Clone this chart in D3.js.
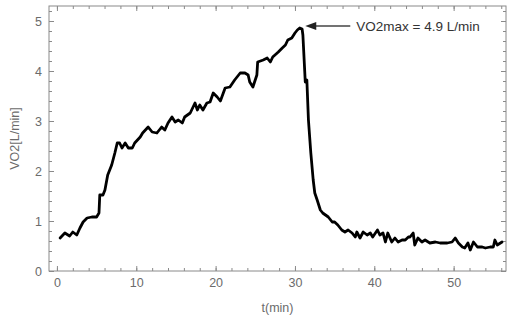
<!DOCTYPE html>
<html>
<head>
<meta charset="utf-8">
<script src="https://cdn.jsdelivr.net/npm/d3@7"></script>
<style>
  body { margin: 0; background: #fff; }
  text { font-family: "Liberation Sans", Arial, sans-serif; }
</style>
</head>
<body>
<div id="chart"></div>
<script>
// time (min) and VO2 (L/min)
let times = [
  0.4, 1.0, 1.6, 2.0, 2.5, 2.9, 3.3, 3.8, 4.4, 5.0, 5.3, 5.4, 5.8, 6.05, 6.4,
  6.9, 7.3, 7.6, 7.9, 8.2, 8.6, 9.0, 9.5, 9.8, 10.5, 10.8, 11.5, 12.0, 12.6,
  13.2, 13.6, 14.0, 14.5, 14.9, 15.3, 15.8, 16.1, 16.8, 17.4, 17.7, 18.0, 18.4,
  18.9, 19.3, 19.7, 20.2, 20.6, 21.2, 21.8, 22.4, 23.1, 23.7, 24.1, 24.3, 24.7,
  25.2, 25.3, 26.0, 26.5, 26.9, 27.2, 27.9, 28.4, 28.8, 29.1, 29.6, 30.0, 30.3,
  30.6, 30.9, 31.0, 31.3, 31.5, 31.7, 32.0, 32.3, 32.5, 32.8, 33.2, 33.5, 34.2,
  34.7, 35.0, 35.4, 35.9, 36.3, 36.7, 37.2, 37.6, 37.8, 38.2, 38.6, 39.1, 39.5,
  39.8, 40.4, 40.7, 41.1, 41.4, 41.7, 42.2, 42.6, 43.0, 43.5, 43.9, 44.3, 44.5,
  44.9, 45.1, 45.5, 46.0, 46.4, 47.0, 47.7, 48.3, 49.2, 49.8, 50.2, 50.6, 51.1,
  51.4, 51.8, 52.1, 52.5, 53.0, 53.6, 54.0, 54.6, 55.0, 55.2, 55.5, 55.9, 56.1
];
let vo2 = [
  0.66, 0.76, 0.70, 0.78, 0.72, 0.86, 0.98, 1.06, 1.08, 1.08, 1.16, 1.52, 1.52, 1.62, 1.92,
  2.12, 2.36, 2.56, 2.56, 2.46, 2.56, 2.46, 2.46, 2.56, 2.68, 2.76, 2.88, 2.78, 2.76,
  2.88, 2.82, 2.96, 3.08, 2.98, 3.02, 2.96, 3.08, 3.16, 3.36, 3.22, 3.32, 3.22,
  3.36, 3.38, 3.56, 3.48, 3.40, 3.66, 3.68, 3.82, 3.96, 3.96, 3.92, 3.78, 3.68,
  3.92, 4.18, 4.22, 4.26, 4.18, 4.28, 4.38, 4.46, 4.52, 4.62, 4.66, 4.76, 4.82,
  4.86, 4.84, 4.72, 3.78, 3.82, 3.02, 2.36, 1.82, 1.56, 1.42, 1.22, 1.16, 1.08,
  0.98, 0.98, 0.92, 0.82, 0.78, 0.82, 0.76, 0.68, 0.78, 0.66, 0.78, 0.72, 0.76,
  0.68, 0.82, 0.72, 0.76, 0.58, 0.76, 0.58, 0.66, 0.58, 0.62, 0.62, 0.68, 0.68,
  0.76, 0.52, 0.66, 0.58, 0.62, 0.56, 0.58, 0.56, 0.56, 0.58, 0.66, 0.56, 0.48,
  0.46, 0.56, 0.42, 0.58, 0.48, 0.48, 0.46, 0.48, 0.48, 0.62, 0.52, 0.56, 0.58
];

let xTicks = [0, 10, 20, 30, 40, 50];
let yTicks = [0, 1, 2, 3, 4, 5];
let xMinor = d3.range(0, 57, 2);
let yMinor = d3.range(0, 5.3, 0.2);

let peakTime = 31.3, peakValue = 4.9;
let peakLabel = "VO2max = 4.9 L/min";

let margin = { top: 6, right: 4, bottom: 49, left: 49 };
let exteriorWidth = 510, exteriorHeight = 320;
let interiorWidth = exteriorWidth - margin.left - margin.right,
    interiorHeight = exteriorHeight - margin.top - margin.bottom;

let data = times.map(function(t, i) { return { t: t, v: vo2[i] }; });

let svg = d3.select("#chart")
  .append("svg")
    .attr("width", exteriorWidth)
    .attr("height", exteriorHeight)
  .append("g")
    .attr("transform", translate(margin.left, margin.top));

let x = d3.scaleLinear().domain([-1.0, 56.6]).range([0, interiorWidth]);
let y = d3.scaleLinear().domain([0, 5.3]).range([interiorHeight, 0]);

let frameColor = "#8a8a8a", labelColor = "#6b6b6b";
let fmt = d3.format("d");

function styleAxis(g) {
  g.select(".domain").remove();
  g.selectAll(".tick line").attr("stroke", frameColor);
  g.selectAll(".tick text").attr("fill", labelColor).style("font-size", "12.5px");
}

// minor ticks on all four sides
svg.append("g").attr("transform", translate(0, interiorHeight))
  .call(d3.axisBottom(x).tickValues(xMinor).tickSize(-3).tickFormat(""))
  .call(styleAxis);
svg.append("g")
  .call(d3.axisTop(x).tickValues(xMinor).tickSize(-3).tickFormat(""))
  .call(styleAxis);
svg.append("g")
  .call(d3.axisLeft(y).tickValues(yMinor).tickSize(-3).tickFormat(""))
  .call(styleAxis);
svg.append("g").attr("transform", translate(interiorWidth, 0))
  .call(d3.axisRight(y).tickValues(yMinor).tickSize(-3).tickFormat(""))
  .call(styleAxis);

// major ticks
svg.append("g").attr("transform", translate(0, interiorHeight))
  .call(d3.axisBottom(x).tickValues(xTicks).tickSize(-5).tickPadding(7).tickFormat(fmt))
  .call(styleAxis);
svg.append("g")
  .call(d3.axisTop(x).tickValues(xTicks).tickSize(-5).tickFormat(""))
  .call(styleAxis);
svg.append("g")
  .call(d3.axisLeft(y).tickValues(yTicks).tickSize(-5).tickPadding(7).tickFormat(fmt))
  .call(styleAxis);
svg.append("g").attr("transform", translate(interiorWidth, 0))
  .call(d3.axisRight(y).tickValues(yTicks).tickSize(-5).tickFormat(""))
  .call(styleAxis);

// frame
svg.append("rect")
  .attr("width", interiorWidth)
  .attr("height", interiorHeight)
  .attr("fill", "none")
  .attr("stroke", frameColor)
  .attr("stroke-width", 1);

let line = d3.line()
  .x(function(d) { return x(d.t); })
  .y(function(d) { return y(d.v); });

svg.append("path")
  .datum(data)
  .attr("d", line)
  .attr("fill", "none")
  .attr("stroke", "#000")
  .attr("stroke-width", 2.8)
  .attr("stroke-linejoin", "round")
  .attr("stroke-linecap", "round");

// annotation arrow
let ax = x(peakTime), ay = y(peakValue);
svg.append("line")
  .attr("x1", ax + 8).attr("y1", ay)
  .attr("x2", ax + 45).attr("y2", ay)
  .attr("stroke", "#444")
  .attr("stroke-width", 1.5);
svg.append("path")
  .attr("d", "M" + ax + "," + ay + "L" + (ax + 11) + "," + (ay - 4) + "L" + (ax + 11) + "," + (ay + 4) + "Z")
  .attr("fill", "#222");
svg.append("text")
  .attr("x", ax + 51)
  .attr("y", ay + 5)
  .attr("fill", "#333")
  .style("font-size", "13.5px")
  .text(peakLabel);

// axis titles
svg.append("text")
  .attr("transform", "rotate(-90)")
  .attr("x", -interiorHeight / 2)
  .attr("y", -30)
  .attr("text-anchor", "middle")
  .attr("fill", labelColor)
  .style("font-size", "12.5px")
  .text("VO2[L/min]");

svg.append("text")
  .attr("x", interiorWidth / 2)
  .attr("y", interiorHeight + 41)
  .attr("text-anchor", "middle")
  .attr("fill", labelColor)
  .style("font-size", "12.5px")
  .text("t(min)");

function translate(x, y = 0) {
  return "translate({x}, {y})".replace("{x}", x).replace("{y}", y);
}
</script>
</body>
</html>
